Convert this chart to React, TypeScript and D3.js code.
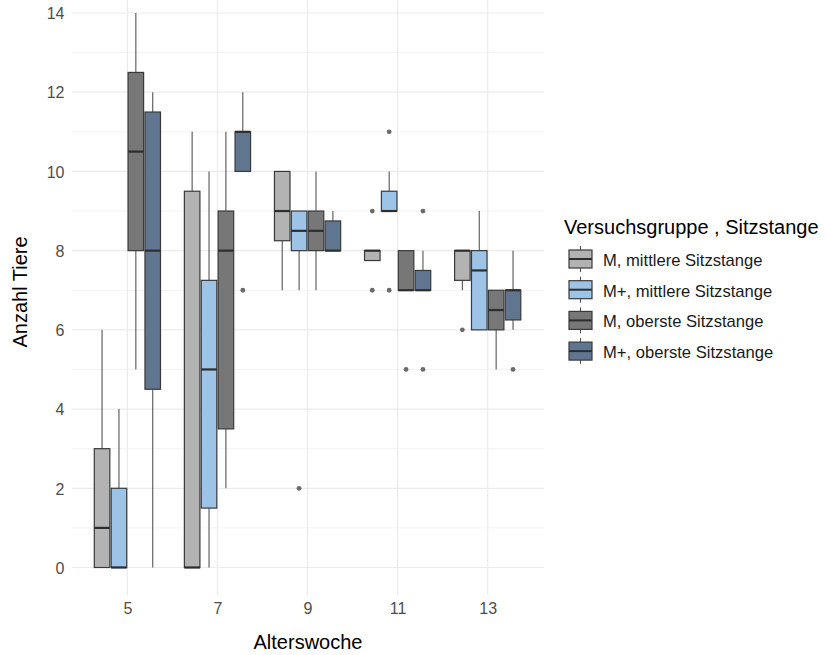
import React, { useEffect, useRef } from 'react';
import * as d3 from 'd3';

// Alterswoche (x) categories
const weeks = [5, 7, 9, 11, 13];
const groups = [
  'M, mittlere Sitzstange',
  'M+, mittlere Sitzstange',
  'M, oberste Sitzstange',
  'M+, oberste Sitzstange',
];
const yTicks = [0, 2, 4, 6, 8, 10, 12, 14];

// box stats per week: [lower whisker, q1, median, q3, upper whisker]
const mMittlere = [[0, 0, 1, 3, 6], [0, 0, 0, 9.5, 11], [7, 8.25, 9, 10, 10], [7.75, 7.75, 8, 8, 8], [7, 7.25, 8, 8, 8]];
const mPlusMittlere = [[0, 0, 0, 2, 4], [0, 1.5, 5, 7.25, 10], [7, 8, 8.5, 9, 9], [9, 9, 9, 9.5, 10], [6, 6, 7.5, 8, 9]];
const mOberste = [[5, 8, 10.5, 12.5, 14], [2, 3.5, 8, 9, 11], [7, 8, 8.5, 9, 10], [7, 7, 7, 8, 8], [5, 6, 6.5, 7, 7]];
const mPlusOberste = [[0, 4.5, 8, 11.5, 12], [10, 10, 11, 11, 12], [8, 8, 8, 8.75, 9], [7, 7, 7, 7.5, 8], [6, 6.25, 7, 7, 8]];

// outliers per week
const mMittlereOut = [[], [], [], [9, 7], [6]];
const mPlusMittlereOut = [[], [], [2], [11, 7], []];
const mObersteOut = [[], [], [], [5], []];
const mPlusObersteOut = [[], [7], [], [9, 5], [5]];

const stats = [mMittlere, mPlusMittlere, mOberste, mPlusOberste];
const outliers = [mMittlereOut, mPlusMittlereOut, mObersteOut, mPlusObersteOut];

const fills = ['#b3b3b3', '#9dc3e6', '#777777', '#60758f'];

export default function App() {
  const ref = useRef<SVGSVGElement>(null);

  useEffect(() => {
    const svg = d3.select(ref.current);
    svg.selectAll('*').remove();
    const font = '"Liberation Sans", Arial, sans-serif';

    const left = 72, right = 544, top = -15, bottom = 595;
    const x = d3.scaleLinear().domain([3.77, 14.25]).range([left, right]);
    const y = d3.scaleLinear().domain([0, 14]).range([567.5, 13]);

    const slot = 0.375, boxW = 0.345;

    // grid
    const grid = svg.append('g');
    d3.range(1, 15, 2).forEach(v => {
      grid.append('line').attr('x1', left).attr('x2', right)
        .attr('y1', y(v)).attr('y2', y(v))
        .attr('stroke', '#ebebeb').attr('stroke-width', 0.6);
    });
    yTicks.forEach(v => {
      grid.append('line').attr('x1', left).attr('x2', right)
        .attr('y1', y(v)).attr('y2', y(v))
        .attr('stroke', '#ebebeb').attr('stroke-width', 1.2);
    });
    weeks.forEach(w => {
      grid.append('line').attr('x1', x(w)).attr('x2', x(w))
        .attr('y1', top).attr('y2', bottom)
        .attr('stroke', '#ebebeb').attr('stroke-width', 1.2);
    });

    // boxes
    const boxes = svg.append('g');
    stats.forEach((series, gi) => {
      series.forEach((s, wi) => {
        const cx = weeks[wi] + (gi - 1.5) * slot;
        const x0 = x(cx - boxW / 2), x1 = x(cx + boxW / 2), xm = x(cx);
        const [lo, q1, med, q3, hi] = s;
        boxes.append('line').attr('x1', xm).attr('x2', xm)
          .attr('y1', y(hi)).attr('y2', y(q3))
          .attr('stroke', '#555').attr('stroke-width', 1.1);
        boxes.append('line').attr('x1', xm).attr('x2', xm)
          .attr('y1', y(q1)).attr('y2', y(lo))
          .attr('stroke', '#555').attr('stroke-width', 1.1);
        boxes.append('rect')
          .attr('x', x0).attr('width', x1 - x0)
          .attr('y', y(q3)).attr('height', Math.max(0, y(q1) - y(q3)))
          .attr('fill', fills[gi])
          .attr('stroke', '#3a3a3a').attr('stroke-width', 1.2);
        boxes.append('line').attr('x1', x0).attr('x2', x1)
          .attr('y1', y(med)).attr('y2', y(med))
          .attr('stroke', '#2e2e2e').attr('stroke-width', 2.2);
        outliers[gi][wi].forEach(o => {
          boxes.append('circle').attr('cx', xm).attr('cy', y(o)).attr('r', 2.4)
            .attr('fill', '#6b6b6b');
        });
      });
    });

    // axes labels
    const yAxis = svg.append('g').attr('transform', `translate(${left - 7.5},0)`)
      .call(d3.axisLeft(y).tickValues(yTicks).tickSize(0).tickPadding(0));
    yAxis.select('.domain').remove();
    yAxis.selectAll('text').attr('fill', '#4d4d4d').attr('font-size', 16)
      .attr('font-family', font).attr('dy', '0.36em');

    const xAxis = svg.append('g').attr('transform', `translate(0,${bottom + 4})`)
      .call(d3.axisBottom(x).tickValues(weeks).tickSize(0).tickPadding(0).tickFormat(d3.format('d')));
    xAxis.select('.domain').remove();
    xAxis.selectAll('text').attr('fill', '#4d4d4d').attr('font-size', 16)
      .attr('font-family', font).attr('dy', '0.95em');

    svg.append('text').attr('x', (left + right) / 2).attr('y', 649)
      .attr('text-anchor', 'middle').attr('font-family', font).attr('font-size', 20)
      .attr('fill', '#000').text('Alterswoche');
    svg.append('text').attr('transform', `translate(27,292) rotate(-90)`)
      .attr('text-anchor', 'middle').attr('font-family', font).attr('font-size', 20)
      .attr('fill', '#000').text('Anzahl Tiere');

    // legend
    const lg = svg.append('g');
    lg.append('text').attr('x', 564).attr('y', 234).attr('font-family', font)
      .attr('font-size', 20).attr('fill', '#000').text('Versuchsgruppe , Sitzstange');
    groups.forEach((g, i) => {
      const cy = 259 + i * 30.7;
      const kx0 = 569, kx1 = 592, km = (kx0 + kx1) / 2;
      lg.append('line').attr('x1', km).attr('x2', km).attr('y1', cy - 13).attr('y2', cy + 13)
        .attr('stroke', '#555').attr('stroke-width', 1.1);
      lg.append('rect').attr('x', kx0).attr('y', cy - 9).attr('width', kx1 - kx0).attr('height', 18)
        .attr('fill', fills[i]).attr('stroke', '#3a3a3a').attr('stroke-width', 1.2);
      lg.append('line').attr('x1', kx0).attr('x2', kx1).attr('y1', cy).attr('y2', cy)
        .attr('stroke', '#2e2e2e').attr('stroke-width', 2);
      lg.append('text').attr('x', 603).attr('y', cy + 1).attr('dy', '0.35em')
        .attr('font-family', font).attr('font-size', 16.6).attr('fill', '#1a1a1a').text(g);
    });
  }, []);

  return (
    <svg ref={ref} width={827} height={655}
      style={{ position: 'absolute', left: 0, top: 0, background: '#fff' }} />
  );
}
